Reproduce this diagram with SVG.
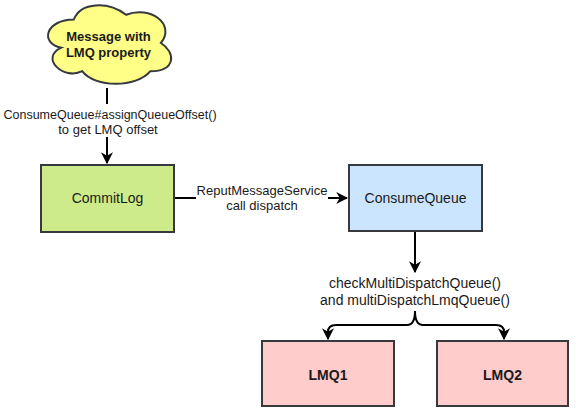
<svg xmlns="http://www.w3.org/2000/svg" width="576" height="420" viewBox="0 0 576 420">
<defs>
<marker id="arr" viewBox="0 0 10 10" refX="9" refY="5" markerWidth="12" markerHeight="12" orient="auto" markerUnits="userSpaceOnUse">
<path d="M0,0 L10,5 L0,10 L3,5 Z" fill="#000"/>
</marker>
<style>
text{font-family:"Liberation Sans",Arial,sans-serif;fill:#1a1a1a;text-anchor:middle}
.box{stroke:#36393d;stroke-width:2}
.lbl{font-size:13px}
.lbl1{font-size:12.5px}
.lbl2{font-size:14px}
.node{font-size:14px}
.b{font-weight:bold}
.conn{fill:none;stroke:#000;stroke-width:2}
</style>
</defs>
<rect width="576" height="420" fill="#fff"/>
<g id="connectors">
<line class="conn" x1="107" y1="88" x2="107" y2="163" marker-end="url(#arr)"/>
<rect x="0" y="104" width="218" height="33" fill="#fff"/>
<text class="lbl1" x="110" y="119">ConsumeQueue#assignQueueOffset()</text>
<text class="lbl" x="108" y="134">to get LMQ offset</text>
<line class="conn" x1="174" y1="198" x2="347" y2="198" marker-end="url(#arr)"/>
<rect x="196" y="182" width="132" height="32" fill="#fff"/>
<text class="lbl" x="262" y="195">ReputMessageService</text>
<text class="lbl" x="262" y="210">call dispatch</text>
<line class="conn" x1="415" y1="231" x2="415" y2="272" marker-end="url(#arr)"/>
<text class="lbl2" x="415" y="288">checkMultiDispatchQueue()</text>
<text class="lbl2" x="415" y="305">and multiDispatchLmqQueue()</text>
<path class="conn" d="M415,311 Q415,325 407,325 L336,325 Q328,325 328,332 L328,339" marker-end="url(#arr)"/>
<path class="conn" d="M415,311 Q415,325 423,325 L496,325 Q504,325 504,332 L504,339" marker-end="url(#arr)"/>
</g>
<g id="cloud">
<path class="box" fill="#ffff88" d="M73.8,19.5 C46,19.5 39,43 61.3,47.7 C39,58 64.1,80.6 82.2,71.2 C94.7,88 136.5,88 150.4,71.2 C176,71.2 176,52.4 160.9,43 C176,24.2 150.4,5.4 126.1,14.8 C108.7,1.5 80.8,1.5 73.8,19.5 Z"/>
<text class="lbl b" x="108.5" y="41">Message with</text>
<text class="lbl b" x="108.5" y="57">LMQ property</text>
</g>
<g id="commitlog">
<rect class="box" x="41" y="165" width="133" height="67" fill="#cdeb8b"/>
<text class="node" x="107.5" y="203">CommitLog</text>
</g>
<g id="consumequeue">
<rect class="box" x="349" y="165" width="133" height="66" fill="#cce5ff"/>
<text class="node" x="415.5" y="203">ConsumeQueue</text>
</g>
<g id="lmq1">
<rect class="box" x="262" y="341" width="132" height="65" fill="#ffcccc"/>
<text class="node b" x="328" y="380">LMQ1</text>
</g>
<g id="lmq2">
<rect class="box" x="437" y="341" width="131" height="65" fill="#ffcccc"/>
<text class="node b" x="502.5" y="380">LMQ2</text>
</g>
</svg>
